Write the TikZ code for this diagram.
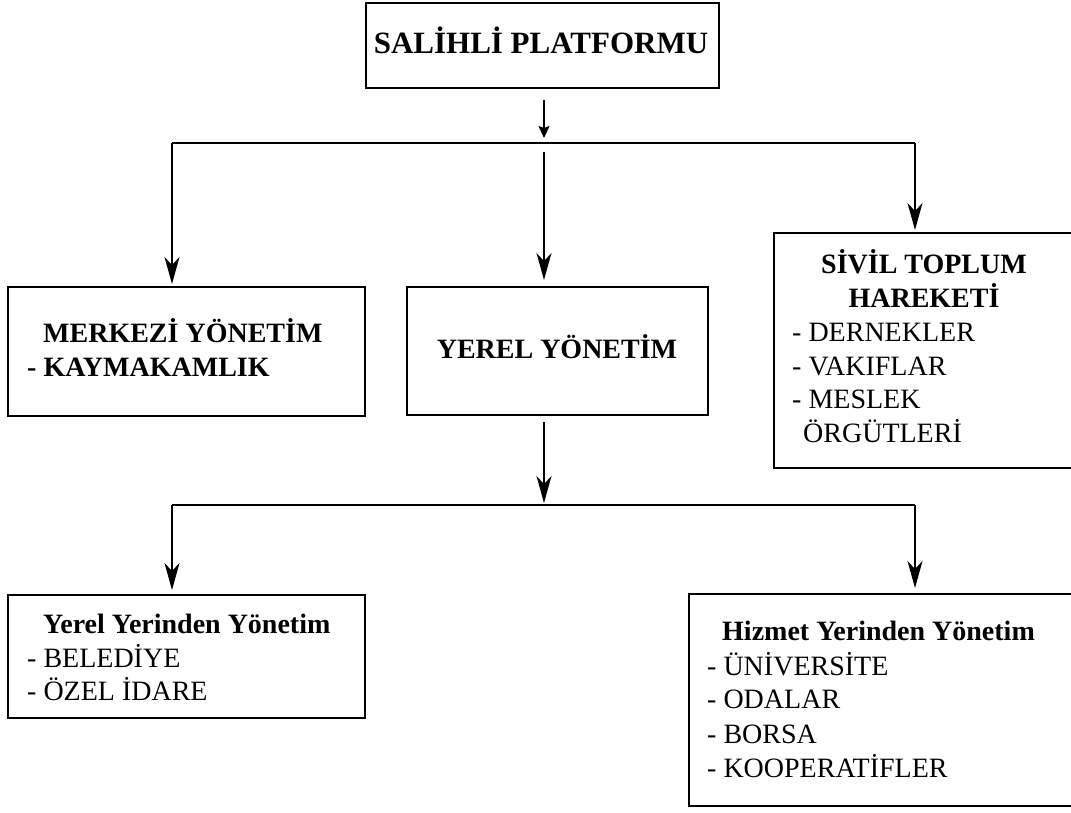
\documentclass[tikz,border=0pt]{standalone}
\usepackage{fontspec}
\setmainfont{Liberation Serif}
\usetikzlibrary{arrows.meta}
\begin{document}
\begin{tikzpicture}[x=1pt,y=-1pt,
  box/.style={draw, line width=1.5pt, inner sep=0pt, anchor=north west},
  conn/.style={line width=1.4pt},
  arr/.style={conn, -{Stealth[length=27pt,width=15pt,inset=8pt]}},
  sarr/.style={conn, -{Stealth[length=12pt,width=11pt,inset=2pt]}},
  txt/.style={inner sep=0pt, anchor=base west, font=\fontsize{28}{34}\selectfont},
  ctxt/.style={txt, anchor=base},
  btxt/.style={txt, font=\fontsize{28}{34}\selectfont\bfseries},
  cbtxt/.style={btxt, anchor=base}
]
\useasboundingbox (0,0) rectangle (1071,812);
\clip (0,0) rectangle (1071,812);

% boxes
\node[box, minimum width=353pt, minimum height=85pt] (top) at (365,2) {};
\node[box, minimum width=357pt, minimum height=129pt] (merk) at (7,286) {};
\node[box, minimum width=301pt, minimum height=128pt] (yerel) at (406,286) {};
\node[box, minimum width=340pt, minimum height=235pt] (sivil) at (773,232) {};
\node[box, minimum width=357pt, minimum height=123pt] (yyy) at (7,594) {};
\node[box, minimum width=420pt, minimum height=212pt] (hiz) at (688,593) {};

% texts
\node[cbtxt, font=\fontsize{31}{36}\selectfont\bfseries] (t0) at (541,53) {SALİHLİ PLATFORMU};

\node[btxt] (t1) at (43,342) {MERKEZİ YÖNETİM};
\node[btxt] (t2) at (27,376) {- KAYMAKAMLIK};

\node[cbtxt] (t3) at (557,358) {YEREL YÖNETİM};

\node[cbtxt] (t4) at (924,273) {SİVİL TOPLUM};
\node[cbtxt] (t5) at (924,307) {HAREKETİ};
\node[txt] (t6) at (792,341) {- DERNEKLER};
\node[txt] (t7) at (792,375) {- VAKIFLAR};
\node[txt] (t8) at (792,408) {- MESLEK};
\node[txt] (t9) at (803,442) {ÖRGÜTLERİ};

\node[btxt] (t10) at (43,633) {Yerel Yerinden Yönetim};
\node[txt] (t11) at (27,667) {- BELEDİYE};
\node[txt] (t12) at (27,700) {- ÖZEL İDARE};

\node[btxt] (t13) at (722,640) {Hizmet Yerinden Yönetim};
\node[txt] (t14) at (707,675) {- ÜNİVERSİTE};
\node[txt] (t15) at (707,708) {- ODALAR};
\node[txt] (t16) at (707,743) {- BORSA};
\node[txt] (t17) at (707,777) {- KOOPERATİFLER};

% junctions
\coordinate (j1) at (544,143);
\coordinate (jL) at (172,143);
\coordinate (jR) at (915,143);
\coordinate (k1) at (544,505);
\coordinate (kL) at (172,505);
\coordinate (kR) at (915,505);

% connectors upper
\draw[sarr, shorten <=11pt, shorten >=5pt] (top.south -| j1) -- (j1);
\draw[conn] (jL) -- (jR);
\draw[arr, shorten >=2pt] (jL) -- (jL |- merk.north);
\draw[arr, shorten <=9pt, shorten >=6pt] (j1) -- (j1 |- yerel.north);
\draw[arr, shorten >=2pt] (jR) -- (jR |- sivil.north);

% connectors lower
\draw[arr, shorten <=6pt, shorten >=2pt] (yerel.south -| k1) -- (k1);
\draw[conn] (kL) -- (kR);
\draw[arr, shorten >=4pt] (kL) -- (kL |- yyy.north);
\draw[arr, shorten >=5pt] (kR) -- (kR |- hiz.north);
\end{tikzpicture}
\end{document}
